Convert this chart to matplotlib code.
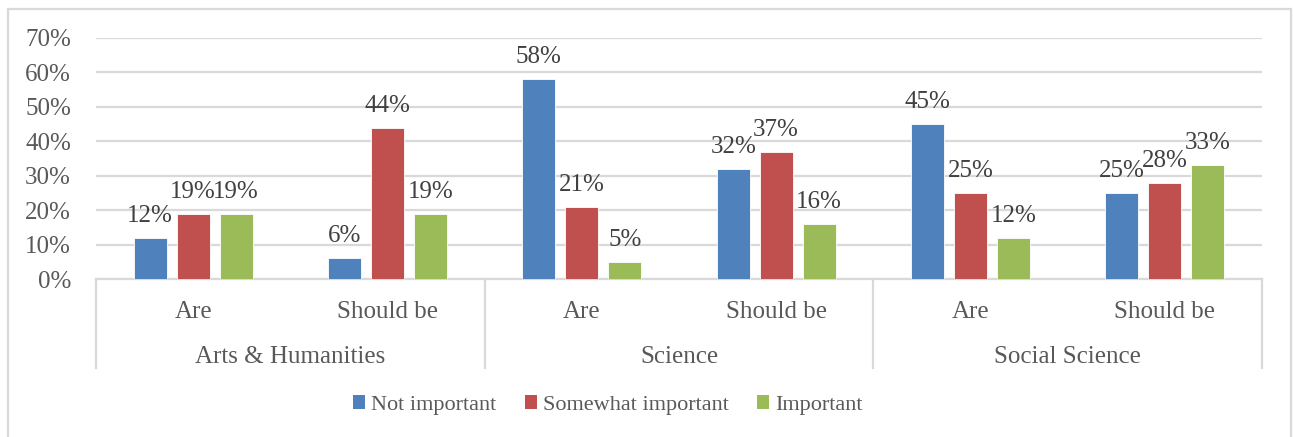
import matplotlib
matplotlib.use("Agg")
import matplotlib.pyplot as plt
from matplotlib.patches import Patch, Rectangle
import numpy as np

# Survey results: share of respondents per rating, by field and framing
groups = ["Arts & Humanities", "Science", "Social Science"]
subcats = ["Are", "Should be"]
series = ["Not important", "Somewhat important", "Important"]
not_important = [12, 6, 58, 32, 45, 25]
somewhat_important = [19, 44, 21, 37, 25, 28]
important = [19, 19, 5, 16, 12, 33]
y_ticks = [0, 10, 20, 30, 40, 50, 60, 70]

colors = ["#4f81bd", "#c0504d", "#9bbb59"]
grid_color = "#d9d9d9"
tick_color = "#595959"
label_color = "#404040"

plt.rcParams["font.family"] = ["Liberation Serif", "DejaVu Serif"]
FS = 18

W, H = 1293, 437
fig = plt.figure(figsize=(W / 100, H / 100), dpi=100)
ax = fig.add_axes([96 / W, (H - 279) / H, (1262 - 96) / W, (279 - 38) / H])

values = [not_important, somewhat_important, important]
n = len(not_important)
x = np.arange(n) + 0.5
step = 0.221
width = 0.17
px_per_unit = (279 - 38) / 70.0  # pixels per percentage point

for i, (vals, col) in enumerate(zip(values, colors)):
    xs = x + (i - 1) * step
    ax.bar(xs, vals, width=width, color=col, edgecolor="white", linewidth=0.6, zorder=3)
    for xi, v in zip(xs, vals):
        ax.text(xi, v + 16 / px_per_unit, f"{v}%", ha="center", va="baseline",
                fontsize=FS, color=label_color, zorder=4)

ax.set_xlim(0, n)
ax.set_ylim(0, 70)
for s in ax.spines.values():
    s.set_visible(False)
ax.set_xticks([])
ax.set_yticks(y_ticks)
ax.set_yticklabels([f"{t}%" for t in y_ticks], fontsize=FS, color=tick_color)
ax.tick_params(axis="y", length=0, pad=18)
ax.yaxis.grid(True, color=grid_color, linewidth=1.6, zorder=0)
ax.set_axisbelow(True)

# Two-level category axis drawn below the plot area
lw = 1.6
bottom = -(368 - 279) / px_per_unit
ax.plot([0, n], [0, 0], color=grid_color, linewidth=lw, clip_on=False, zorder=2)
for b in [0, 2, 4, 6]:
    ax.plot([b, b], [0, bottom], color=grid_color, linewidth=lw, clip_on=False, zorder=2)
for k in range(n):
    ax.text(x[k], -(318 - 279) / px_per_unit, subcats[k % 2], ha="center", va="baseline",
            fontsize=FS, color=tick_color, clip_on=False)
for g, name in enumerate(groups):
    ax.text(2 * g + 1, -(363 - 279) / px_per_unit, name, ha="center", va="baseline",
            fontsize=FS, color=tick_color, clip_on=False)

# Legend
handles = [Patch(facecolor=c, edgecolor="none", label=l) for c, l in zip(colors, series)]
leg = fig.legend(handles=handles, loc="center", bbox_to_anchor=(608 / W, 1 - 405 / H),
                 ncol=3, frameon=False, fontsize=16, handlelength=0.54, handleheight=0.54,
                 handletextpad=0.25, columnspacing=1.3, labelcolor=tick_color,
                 borderpad=0.2)

# Chart frame
fig.patches.append(Rectangle((7.5 / W, -0.05), (1291 - 7.5) / W, 1.05 - 9 / H,
                             transform=fig.transFigure, fill=False,
                             edgecolor=grid_color, linewidth=1.6))

fig.savefig("out.png", dpi=100)
